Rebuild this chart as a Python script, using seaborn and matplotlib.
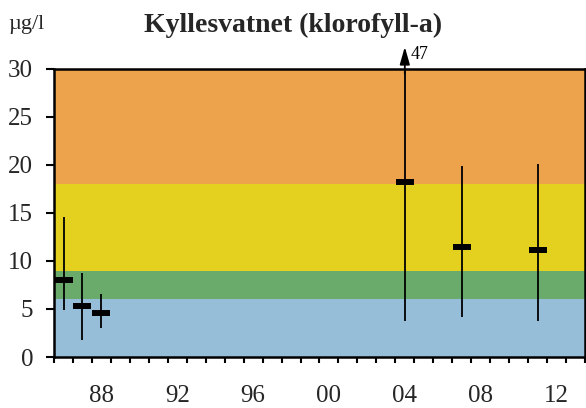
import matplotlib
matplotlib.use("Agg")
import matplotlib.pyplot as plt
import seaborn as sns
import pandas as pd
import numpy as np

# Chlorophyll-a in Kyllesvatnet: mean with min-max range per sampling year
years = [1986, 1987, 1988, 2004, 2007, 2011]
mean_vals = [8.0, 5.3, 4.6, 18.2, 11.5, 11.1]
min_vals = [4.9, 1.8, 3.0, 3.7, 4.2, 3.7]
max_vals = [14.6, 8.8, 6.6, 47.0, 19.9, 20.1]

# Classification bands (upper limits) and their colours
band_limits = [0, 6, 9, 18, 30]
band_colors = ["#96bed8", "#6aaa6a", "#e3d01f", "#eda34c"]

tick_years = [1988, 1992, 1996, 2000, 2004, 2008, 2012]
tick_labels = ["88", "92", "96", "00", "04", "08", "12"]

df = pd.DataFrame({"year": years, "mean": mean_vals, "min": min_vals, "max": max_vals})

sns.set_theme(style="white")
plt.rcParams["font.family"] = ["Liberation Serif", "DejaVu Serif"]

fig = plt.figure(figsize=(5.86, 4.08), dpi=100)
ax = fig.add_axes([0.0922, 0.125, 0.906, 0.706])

ymax = 30
for lo, hi, c in zip(band_limits[:-1], band_limits[1:], band_colors):
    ax.axhspan(lo, hi, color=c, lw=0, zorder=0)

# min-max ranges; values above the axis are drawn as arrows with their value
for _, r in df.iterrows():
    top = min(r["max"], ymax)
    ax.vlines(r["year"], r["min"], top, color="black", lw=1.3, zorder=2)
    if r["max"] > ymax:
        ax.annotate("", xy=(r["year"], 32.3), xytext=(r["year"], ymax - 0.5),
                    arrowprops=dict(arrowstyle="-|>,head_length=0.7,head_width=0.2",
                                    color="black", lw=1.3,
                                    mutation_scale=15, shrinkA=0, shrinkB=0),
                    annotation_clip=False, zorder=3)
        ax.text(r["year"] + 0.3, 31.55, f"{r['max']:.0f}", fontsize=13,
                ha="left", va="center", color="black")

sns.scatterplot(data=df, x="year", y="mean", marker="_", s=160, linewidth=4.3,
                color="black", ax=ax, zorder=4, legend=False)

ax.set_xlim(1985.5, 2013.5)
ax.set_ylim(0, ymax)
ax.set_yticks([0, 5, 10, 15, 20, 25, 30])
ax.set_xticks(tick_years)
ax.set_xticklabels(tick_labels)
ax.set_xticks(np.arange(1985.5, 2014, 1.0), minor=True)
ax.tick_params(axis="x", which="major", length=0, pad=20, labelsize=18)
ax.tick_params(axis="x", which="minor", length=4.5, width=1.5, direction="out",
               bottom=True, color="black")
ax.tick_params(axis="y", which="major", length=6, width=1.5, direction="out",
               left=True, pad=9, labelsize=18, color="black")
ax.set_xlabel("")
ax.set_ylabel("")
for s in ax.spines.values():
    s.set_color("black")
    s.set_linewidth(1.8)
    s.set_visible(True)

fig.text(0.5, 0.938, "Kyllesvatnet (klorofyll-a)", ha="center", va="center",
         fontsize=20, fontweight="bold")
fig.text(0.014, 0.94, "µg/l", ha="left", va="center", fontsize=16)

fig.savefig("out.png", dpi=100)
